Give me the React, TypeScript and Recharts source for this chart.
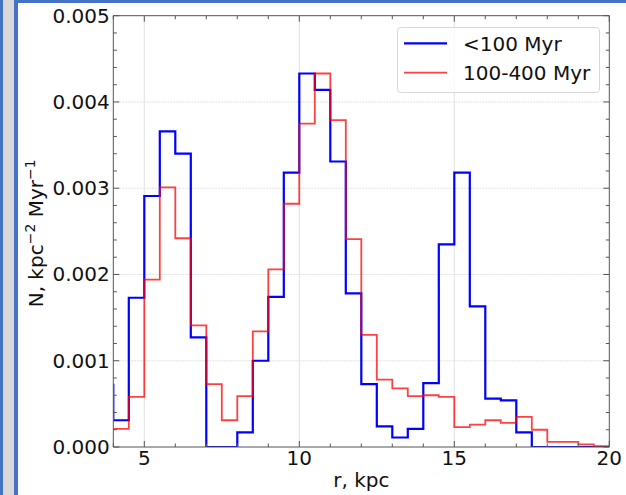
import React from 'react'
import { LineChart, Line, XAxis, YAxis, ReferenceLine, Legend, Label } from 'recharts'

// left edges of the 0.5 kpc bins (the first one sits left of the visible range)
const binStarts = [
  3.5, 4, 4.5, 5, 5.5, 6, 6.5, 7, 7.5, 8, 8.5, 9, 9.5, 10, 10.5, 11, 11.5,
  12, 12.5, 13, 13.5, 14, 14.5, 15, 15.5, 16, 16.5, 17, 17.5, 18, 18.5, 19, 19.5,
]
const binEnd = 20

const youngValues = [
  0.00072, 0.00031, 0.00173, 0.00291, 0.00366, 0.0034, 0.00127, 0, 0, 0.00017,
  0.001, 0.00174, 0.00318, 0.00433, 0.00414, 0.00331, 0.00178, 0.00073, 0.00024,
  0.00011, 0.00021, 0.00074, 0.00235, 0.00318, 0.00163, 0.00056, 0.00054, 0.00017,
  0, 0, 0, 0, 0,
]
const olderValues = [
  null, 0.00021, 0.00058, 0.00194, 0.00301, 0.00242, 0.00141, 0.00073, 0.00031,
  0.00059, 0.00134, 0.00206, 0.00282, 0.00375, 0.00433, 0.00379, 0.00241, 0.0013,
  0.00078, 0.00068, 0.00059, 0.0006, 0.00058, 0.00023, 0.00026, 0.00031, 0.00028,
  0.00035, 0.0002, 0.00006, 0.00006, 0.00003, 0.00001,
]

const seriesNames = ['<100 Myr', '100-400 Myr']
const xTicks = [4, 5, 6, 7, 8, 9, 10, 11, 12, 13, 14, 15, 16, 17, 18, 19, 20]
const yTicks = Array.from({ length: 26 }, (_, i) => Number((i * 0.0002).toFixed(4)))
const gridX = [5, 10, 15]
const gridY = [0.001, 0.002, 0.003, 0.004]

const last = binStarts.length - 1
const data = [
  ...binStarts.map((r, i) => ({ r, young: youngValues[i], older: olderValues[i] })),
  { r: binEnd, young: youngValues[last], older: olderValues[last] },
]

const FONT = '"DejaVu Sans", sans-serif'
const AXIS = '#555'
const TEXT = '#111'
const FRAME_BLUE = '#4472c4'
const seriesColors = ['#0000ff', '#ff0000']
const seriesWidths = [2.2, 1.8]
const seriesOpacity = [1, 0.75]

const isMajorX = (v: number) => v % 5 === 0
const isMajorY = (v: number) => Math.abs(v * 1000 - Math.round(v * 1000)) < 1e-6

const BottomTick = ({ x, y, payload }: any) => {
  const major = isMajorX(payload.value)
  return (
    <g>
      <line x1={x} x2={x} y1={y} y2={y - (major ? 6 : 3.5)} stroke={AXIS} />
      {major && (
        <text x={x} y={y + 18} textAnchor="middle" fontSize={20} fontFamily={FONT} fill={TEXT}>
          {payload.value}
        </text>
      )}
    </g>
  )
}

const TopTick = ({ x, y, payload }: any) => (
  <line x1={x} x2={x} y1={y} y2={y + (isMajorX(payload.value) ? 6 : 3.5)} stroke={AXIS} />
)

const LeftTick = ({ x, y, payload }: any) => {
  const major = isMajorY(payload.value)
  return (
    <g>
      <line x1={x} x2={x + (major ? 6 : 3.5)} y1={y} y2={y} stroke={AXIS} />
      {major && (
        <text x={x - 3.5} y={y + 7} textAnchor="end" fontSize={20} fontFamily={FONT} fill={TEXT}>
          {payload.value.toFixed(3)}
        </text>
      )}
    </g>
  )
}

const RightTick = ({ x, y, payload }: any) => (
  <line x1={x} x2={x - (isMajorY(payload.value) ? 6 : 3.5)} y1={y} y2={y} stroke={AXIS} />
)

const XTitle = ({ viewBox }: any) => (
  <text
    x={viewBox.x + viewBox.width / 2}
    y={viewBox.y + 39.5}
    textAnchor="middle"
    fontSize={20}
    fontFamily={FONT}
    fill={TEXT}
  >
    r, kpc
  </text>
)

const YTitle = ({ viewBox }: any) => {
  const cx = viewBox.x + 43
  const cy = viewBox.y + viewBox.height / 2 + 2
  return (
    <text
      x={cx}
      y={cy}
      transform={`rotate(-90, ${cx}, ${cy})`}
      textAnchor="middle"
      fontSize={20}
      fontFamily={FONT}
      fill={TEXT}
    >
      N, kpc
      <tspan fontSize={14} dy={-8}>−2</tspan>
      <tspan dy={8}> Myr</tspan>
      <tspan fontSize={14} dy={-8}>−1</tspan>
    </text>
  )
}

const LegendBox = () => (
  <div
    style={{
      width: 203,
      height: 66,
      boxSizing: 'border-box',
      border: '1px solid #d8d8d8',
      borderRadius: 4,
      background: 'rgba(255,255,255,0.8)',
    }}
  >
    <svg width={201} height={64} style={{ display: 'block' }}>
      {seriesNames.map((name, i) => (
        <g key={name}>
          <line
            x1={6}
            x2={49}
            y1={15.3 + i * 29.4}
            y2={15.3 + i * 29.4}
            stroke={seriesColors[i]}
            strokeWidth={seriesWidths[i]}
            strokeOpacity={seriesOpacity[i]}
          />
          <text x={65} y={22.6 + i * 29.4} fontSize={20} fontFamily={FONT} fill={TEXT}>
            {name}
          </text>
        </g>
      ))}
    </svg>
  </div>
)

export default function App() {
  return (
    <div style={{ position: 'fixed', left: 0, top: 0, width: 626, height: 495, background: '#fff' }}>
      <div style={{ position: 'absolute', left: 0, top: 0, width: 3, height: 495, background: FRAME_BLUE }} />
      <div style={{ position: 'absolute', left: 3, top: 0, width: 11, height: 495, background: '#d9d9d9' }} />
      <div style={{ position: 'absolute', left: 14, top: 0, width: 4, height: 495, background: FRAME_BLUE }} />
      <div style={{ position: 'absolute', left: 14, top: 0, width: 612, height: 3, background: FRAME_BLUE }} />
      <div style={{ position: 'absolute', left: 0, top: 0 }}>
        <LineChart width={626} height={495} data={data} margin={{ top: 0, right: 0, bottom: 0, left: 0 }}>
          {gridX.map((v) => (
            <ReferenceLine key={`gx${v}`} x={v} stroke="#dedede" strokeWidth={0.9} />
          ))}
          {gridY.map((v) => (
            <ReferenceLine key={`gy${v}`} y={v} stroke="#dedede" strokeWidth={0.9} strokeDasharray="2 1" />
          ))}
          <XAxis
            dataKey="r"
            type="number"
            domain={[4, 20]}
            allowDataOverflow
            ticks={xTicks}
            interval={0}
            height={48}
            tickSize={0}
            tickMargin={0}
            tick={BottomTick}
            tickLine={false}
            axisLine={{ stroke: AXIS }}
          >
            <Label content={XTitle} />
          </XAxis>
          <XAxis
            xAxisId="top"
            orientation="top"
            dataKey="r"
            type="number"
            domain={[4, 20]}
            allowDataOverflow
            ticks={xTicks}
            interval={0}
            height={15.7}
            tickSize={0}
            tickMargin={0}
            tick={TopTick}
            tickLine={false}
            axisLine={{ stroke: AXIS }}
          />
          <YAxis
            type="number"
            domain={[0, 0.005]}
            allowDataOverflow
            ticks={yTicks}
            interval={0}
            width={113.3}
            tickSize={0}
            tickMargin={0}
            tick={LeftTick}
            tickLine={false}
            axisLine={{ stroke: AXIS }}
          >
            <Label content={YTitle} />
          </YAxis>
          <YAxis
            yAxisId="right"
            orientation="right"
            type="number"
            domain={[0, 0.005]}
            allowDataOverflow
            ticks={yTicks}
            interval={0}
            width={16.7}
            tickSize={0}
            tickMargin={0}
            tick={RightTick}
            tickLine={false}
            axisLine={{ stroke: AXIS }}
          />
          <Line
            type="stepAfter"
            dataKey="young"
            name={seriesNames[0]}
            stroke={seriesColors[0]}
            strokeWidth={seriesWidths[0]}
            strokeOpacity={seriesOpacity[0]}
            dot={false}
            activeDot={false}
            isAnimationActive={false}
          />
          <Line
            type="stepAfter"
            dataKey="older"
            name={seriesNames[1]}
            stroke={seriesColors[1]}
            strokeWidth={seriesWidths[1]}
            strokeOpacity={seriesOpacity[1]}
            dot={false}
            activeDot={false}
            isAnimationActive={false}
          />
          <Legend
            layout="vertical"
            align="center"
            verticalAlign="middle"
            wrapperStyle={{ left: 397, top: 27, width: 203, height: 66 }}
            content={LegendBox}
          />
        </LineChart>
      </div>
    </div>
  )
}
